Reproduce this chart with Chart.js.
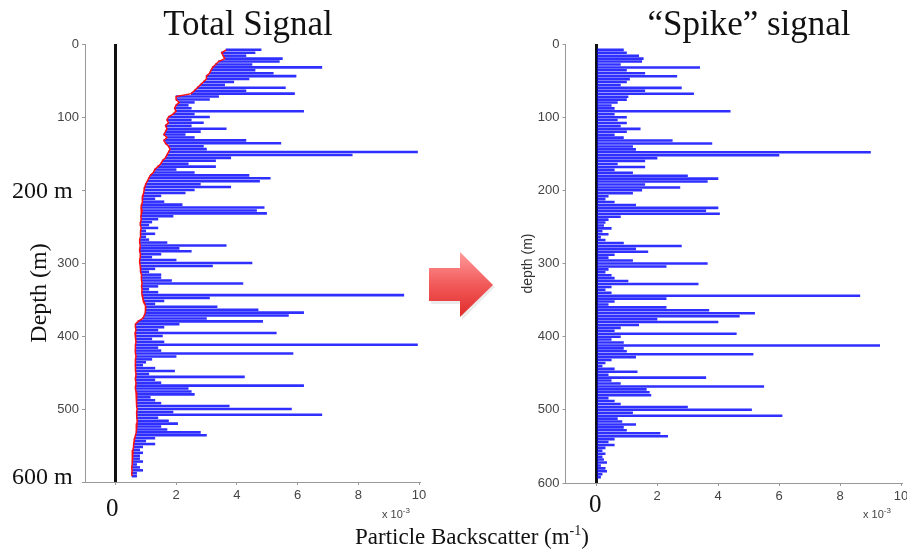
<!DOCTYPE html>
<html>
<head>
<meta charset="utf-8">
<script src="https://cdn.jsdelivr.net/npm/chart.js@4.4.1/dist/chart.umd.min.js"></script>
<style>
  html, body { margin:0; padding:0; background:#fff; }
  #wrap { position:relative; width:907px; height:550px; overflow:hidden; background:#fff; }
  canvas { position:absolute; top:0; }
  .t { position:absolute; white-space:nowrap; line-height:1; color:#111; font-family:'Liberation Serif', 'Times New Roman', serif; }
  .small { position:absolute; white-space:nowrap; line-height:1; color:#444; font-family:'Liberation Sans', Arial, sans-serif; font-size:11px; }
</style>
</head>
<body>
<div id="wrap">
  <canvas id="left" width="450" height="550" style="left:0px"></canvas>
  <canvas id="right" width="457" height="550" style="left:450px"></canvas>

  <div class="t" style="left:98px;width:300px;text-align:center;top:6px;font-size:35px;">Total Signal</div>
  <div class="t" style="left:599px;width:300px;text-align:center;top:6px;font-size:35px;">“Spike” signal</div>

  <div class="t" style="left:12px;top:178px;font-size:24px;">200 m</div>
  <div class="t" style="left:12px;top:464px;font-size:24px;">600 m</div>
  <div class="t" style="left:-12px;top:281px;width:100px;text-align:center;font-size:24px;transform:rotate(-90deg);">Depth (m)</div>

  <div class="t" style="left:106px;top:495px;font-size:25px;">0</div>
  <div class="t" style="left:589px;top:491px;font-size:25px;">0</div>

  <div class="small" style="left:382px;top:507px;">x 10<sup style="font-size:8px;">-3</sup></div>
  <div class="small" style="left:863px;top:507px;">x 10<sup style="font-size:8px;">-3</sup></div>

  <div class="t" style="left:272px;width:400px;text-align:center;top:524px;font-size:23px;">Particle Backscatter (m<sup style="font-size:14px;">-1</sup>)</div>

  <svg style="position:absolute;left:0;top:0;" width="907" height="550">
    <defs>
      <linearGradient id="ag" x1="0" y1="0" x2="0" y2="1">
        <stop offset="0" stop-color="#ff9a9a"/>
        <stop offset="0.5" stop-color="#f25a5a"/>
        <stop offset="1" stop-color="#e02a2a"/>
      </linearGradient>
    </defs>
    <polygon points="431,270 462,270 462,254 495,287 462,320 462,304 431,304" fill="#d8d8d8" opacity="0.5"/>
    <polygon points="429,268 460,268 460,252 493,285 460,317 460,301 429,301" fill="url(#ag)"/>
  </svg>
</div>

<script>
// ---- data (x values in units of 1e-3 m^-1, depth in m) ----
const depths = [
  8,12,16,20,24,28,32,36,40,44,
  48,52,56,60,64,68,72,76,80,84,
  88,92,96,100,104,108,112,116,120,124,
  128,132,136,140,144,148,152,156,160,164,
  168,172,176,180,184,188,192,196,200,204,
  208,212,216,220,224,228,232,236,240,244,
  248,252,256,260,264,268,272,276,280,284,
  288,292,296,300,304,308,312,316,320,324,
  328,332,336,340,344,348,352,356,360,364,
  368,372,376,380,384,388,392,396,400,404,
  408,412,416,420,424,428,432,436,440,444,
  448,452,456,460,464,468,472,476,480,484,
  488,492,496,500,504,508,512,516,520,524,
  528,532,536,540,544,548,552,556,560,564,
  568,572,576,580,584,588,592
];
const baseline = [
  3.65,3.5,3.55,3.6,3.4,3.3,3.2,3.15,3.1,3.0,
  3.0,2.9,2.8,2.7,2.6,2.5,2.0,2.0,2.1,2.0,
  1.95,2.0,1.9,1.75,1.7,1.75,1.65,1.7,1.65,1.6,
  1.7,1.6,1.65,1.75,1.8,1.75,1.7,1.65,1.55,1.5,
  1.4,1.3,1.25,1.15,1.1,1.05,1.0,0.97,0.95,0.93,
  0.9,0.88,0.9,0.87,0.85,0.88,0.86,0.84,0.85,0.83,
  0.82,0.85,0.83,0.82,0.84,0.8,0.8,0.82,0.81,0.8,
  0.83,0.82,0.8,0.8,0.82,0.84,0.82,0.86,0.85,0.87,
  0.88,0.86,0.88,0.87,0.88,0.9,0.93,0.97,1.0,1.0,
  0.98,0.95,0.9,0.75,0.66,0.66,0.68,0.65,0.67,0.66,
  0.68,0.66,0.67,0.65,0.66,0.68,0.66,0.67,0.65,0.67,
  0.66,0.68,0.67,0.66,0.68,0.67,0.66,0.68,0.7,0.69,
  0.7,0.71,0.7,0.72,0.7,0.71,0.7,0.72,0.71,0.7,
  0.69,0.68,0.66,0.64,0.62,0.6,0.6,0.58,0.57,0.56,
  0.56,0.55,0.55,0.54,0.55,0.54,0.55
];
const totalSignal = [
  4.8,4.6,4.3,5.5,5.4,4.5,6.8,4.6,5.2,5.95,
  4.4,3.9,3.6,5.6,4.3,5.9,3.4,3.1,2.6,2.4,
  2.5,6.2,2.6,3.1,2.5,2.9,2.5,3.65,2.8,2.3,
  2.6,4.3,5.45,2.9,3.0,9.95,7.8,3.8,3.3,2.4,
  3.3,2.0,2.6,4.4,5.1,4.75,2.8,3.8,2.6,2.3,
  1.5,1.3,1.6,2.2,4.9,4.65,4.98,1.9,1.4,1.2,
  1.1,1.4,1.0,1.3,1.0,1.1,1.7,3.65,2.1,2.5,
  1.5,1.2,2.0,4.5,3.2,1.3,1.1,1.5,1.5,1.85,
  4.2,1.4,1.1,1.4,9.5,3.1,1.6,1.3,3.35,4.7,
  6.2,5.7,3.0,4.85,2.1,1.6,1.4,5.3,1.55,1.2,
  1.6,9.95,1.4,1.5,5.85,2.0,1.2,1.0,0.9,1.3,
  1.95,1.1,4.25,1.3,1.5,6.2,2.4,2.5,2.6,1.15,
  1.3,1.5,3.75,5.8,1.9,6.8,1.4,1.75,2.05,1.5,
  1.7,2.8,3.0,1.3,1.0,1.3,0.9,0.8,0.9,0.8,
  0.8,0.9,0.7,0.8,0.9,0.7,0.7
];
const spikeSignal = [
  0.9,1.0,1.4,1.55,1.5,0.8,3.4,1.0,1.6,2.65,
  1.1,1.0,0.8,2.8,1.6,3.2,1.05,1.0,0.7,0.5,
  0.6,4.4,0.6,1.0,0.7,1.0,0.8,1.45,1.0,0.6,
  0.9,2.5,3.8,1.2,1.3,9.0,6.0,2.0,1.6,0.7,
  1.6,0.6,1.2,3.0,4.0,3.65,1.6,2.75,1.5,1.2,
  0.4,0.3,0.6,1.3,4.0,3.6,4.05,0.8,0.4,0.3,
  0.25,0.5,0.2,0.4,0.15,0.3,0.9,2.8,1.3,1.7,
  0.6,0.4,1.2,3.65,2.3,0.4,0.3,0.5,0.6,1.05,
  3.35,0.5,0.3,0.5,8.65,2.3,0.6,0.4,2.3,3.7,
  5.2,4.7,2.0,4.0,1.4,0.8,0.6,4.6,0.8,0.5,
  0.9,9.3,0.9,1.0,5.15,1.3,0.5,0.3,0.2,0.6,
  1.35,0.4,3.6,0.5,0.8,5.5,1.65,1.75,1.8,0.4,
  0.6,0.8,3.0,5.1,1.2,6.1,0.7,0.85,1.3,0.9,
  1.0,2.1,2.35,0.6,0.4,0.6,0.3,0.2,0.3,0.2,
  0.25,0.35,0.15,0.3,0.35,0.2,0.15
];
const yTicks = [0,100,200,300,400,500,600];
const xTicks = [0,2,4,6,8,10];
const leftHiddenYLabels = [200,600];

// ---- build ----
const BLUE = 'rgba(10,10,255,0.85)';
const tickFont = { family: "'Liberation Sans', Arial, sans-serif", size: 13 };

function xScale() {
  return {
    type: 'linear', min: -1, max: 10, offset: false,
    afterBuildTicks: s => { s.ticks = xTicks.map(v => ({ value: v })); },
    afterFit: s => { s.height = 22; s.paddingLeft = 0; s.paddingRight = 0; },
    ticks: { font: tickFont, color: '#444', padding: 3, maxRotation: 0, autoSkip: false,
             callback: v => (v === 0 ? '' : String(v)) },
    grid: {
      offset: false,
      drawOnChartArea: true,
      color: c => (c.tick && c.tick.value === 0) ? '#111' : 'rgba(0,0,0,0)',
      lineWidth: c => (c.tick && c.tick.value === 0) ? 3 : 1,
      tickColor: '#999', tickLength: 3, tickWidth: 1
    },
    border: { display: true, color: '#999', width: 1 }
  };
}
function yScale(width, hidden, title) {
  return {
    type: 'linear', reverse: true, min: 0, max: 600, offset: false,
    afterBuildTicks: s => { s.ticks = yTicks.map(v => ({ value: v })); },
    afterFit: s => { s.width = width; s.paddingTop = 0; s.paddingBottom = 0; },
    ticks: { font: tickFont, color: '#444', padding: 3, autoSkip: false,
             callback: v => (hidden.includes(v) ? '' : String(v)) },
    grid: { offset: false, drawOnChartArea: false, color: 'rgba(0,0,0,0)', tickColor: '#999', tickLength: 3, tickWidth: 1 },
    border: { display: true, color: '#999', width: 1 },
    title: title ? { display: true, text: title, color: '#333',
                     font: { family: "'Liberation Sans', Arial, sans-serif", size: 14 }, padding: { top: 4, bottom: 0 } }
                 : { display: false }
  };
}
const common = {
  responsive: false, animation: false, devicePixelRatio: 1, indexAxis: 'y',
  plugins: { legend: { display: false }, tooltip: { enabled: false }, title: { display: false } }
};

new Chart(document.getElementById('left'), {
  type: 'bar',
  data: {
    datasets: [
      { type: 'line', indexAxis: 'y', order: 0,
        data: depths.map((d, i) => ({ y: d, x: baseline[i] })),
        borderColor: '#ff1010', borderWidth: 1.5, pointRadius: 0, fill: false, tension: 0 },
      { type: 'bar', order: 1, grouped: false,
        data: depths.map((d, i) => ({ y: d, x: [baseline[i], totalSignal[i]] })),
        backgroundColor: BLUE, borderWidth: 0, barThickness: 1.9 }
    ]
  },
  options: Object.assign({}, common, {
    layout: { padding: { left: 0, right: 31, top: 44, bottom: 46 } },
    scales: { x: xScale(), y: yScale(85, leftHiddenYLabels, null) }
  })
});

new Chart(document.getElementById('right'), {
  type: 'bar',
  data: {
    datasets: [
      { type: 'bar', grouped: false,
        data: depths.map((d, i) => ({ y: d, x: [0, spikeSignal[i]] })),
        backgroundColor: BLUE, borderWidth: 0, barThickness: 1.9 }
    ]
  },
  options: Object.assign({}, common, {
    layout: { padding: { left: 66, right: 6, top: 44, bottom: 45 } },
    scales: { x: xScale(), y: yScale(49.5, [], 'depth (m)') }
  })
});
</script>
</body>
</html>
